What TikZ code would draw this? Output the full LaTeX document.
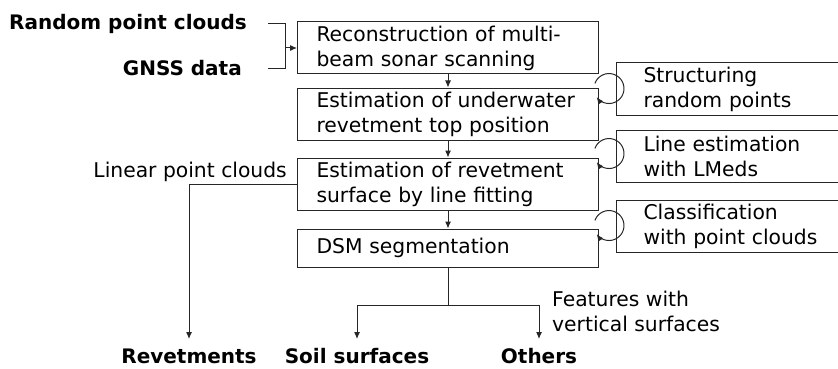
\documentclass[tikz,border=0pt]{standalone}
\usepackage{fontspec}
\setmainfont{DejaVu Sans}
\usetikzlibrary{arrows.meta}
\newcommand{\fs}{\fontsize{20.3}{25}\selectfont}
\newcommand{\bfs}{\fontsize{20}{25}\selectfont\bfseries}
\begin{document}
\begin{tikzpicture}[x=1pt,y=1pt,
  flow/.style={draw=black!85, line width=1pt},
  arr/.style={flow, -{Latex[length=7pt,width=6pt]}},
  mainbox/.style={draw=black!85, line width=1pt, text width=263pt,
    inner xsep=19pt, inner ysep=0pt, align=left, minimum height=52pt, font=\fs},
  sidebox/.style={draw=black!85, line width=1pt, text width=200pt,
    inner xsep=27pt, inner ysep=0pt, align=left, minimum height=52pt,
    font=\fs, anchor=west},
  inlabel/.style={font=\bfs, inner sep=0pt},
  outlabel/.style={font=\bfs, inner xsep=0pt, inner ysep=9.5pt, anchor=north},
  note/.style={font=\fs, inner sep=0pt, align=left}]
\useasboundingbox (0,0) rectangle (838,-369);

% inputs
\node[inlabel, anchor=base east] (rpc) at (247,-30) {Random point clouds};
\node[inlabel, anchor=base east] (gnss) at (242,-75) {GNSS data};

% processing chain
\node[mainbox] (b1) at (448,-48) {Reconstruction of multi-\\beam sonar scanning};
\node[mainbox] (b2) at (448,-114) {Estimation of underwater\\revetment top position};
\node[mainbox] (b3) at (448,-184) {Estimation of revetment\\surface by line fitting};
\node[mainbox, minimum height=38pt] (b4) at (448,-248) {DSM segmentation};

% methods
\node[sidebox] (s1) at (616,-89) {Structuring\\random points};
\node[sidebox] (s2) at (616,-156) {Line estimation\\with LMeds};
\node[sidebox] (s3) at (616,-226.5) {Classification\\with point clouds};

% outputs
\node[outlabel] (rev) at (189,-339) {Revetments};
\node[outlabel] (soil) at (357,-339) {Soil surfaces};
\node[outlabel] (oth) at (539,-339) {Others};

\node[note, anchor=base east] (lin) at (287,-177) {Linear point clouds};
\node[note, anchor=west] (feat) at (552,-311.5) {Features with\\vertical surfaces};

% input bracket
\coordinate (bt) at (268,-24);
\coordinate (bb) at (268,-69);
\coordinate (bj) at (285,-48);
\draw[flow] (bt) -- ++(17,0) |- (bb);
\draw[arr] (bj) -- (b1.west);

% chain arrows
\draw[arr] (b1.south) -- (b2.north);
\draw[arr] (b2.south) -- (b3.north);
\draw[arr] (b3.south) -- (b4.north);

% method loops
\draw[arr] ([shift={(-4.1,4.1)}]b2.north east) arc[start angle=160, end angle=-145, radius=15];
\draw[arr] ([shift={(-4.1,9.1)}]b3.north east) arc[start angle=160, end angle=-145, radius=15];
\draw[arr] ([shift={(-4.1,8.1)}]b4.north east) arc[start angle=160, end angle=-145, radius=15];

% branches
\draw[arr] (b3.west) -| (rev.north);
\draw[flow] (b4.south) -- ++(0,-38) coordinate (split);
\draw[arr] (split) -| (soil.north);
\draw[arr] (split) -| (oth.north);
\end{tikzpicture}
\end{document}
